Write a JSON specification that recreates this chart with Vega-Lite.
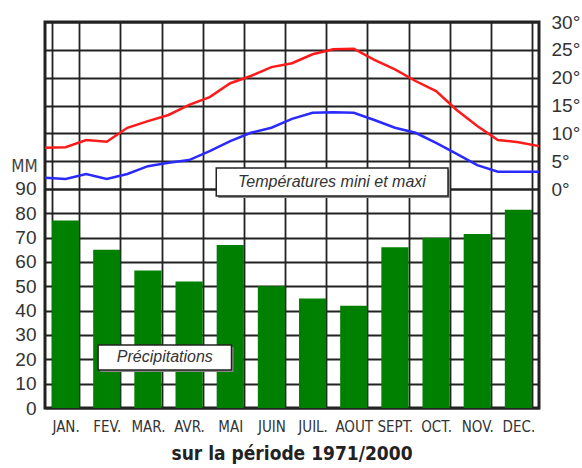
{
  "$schema": "https://vega.github.io/schema/vega-lite/v6.json",
  "width": 494,
  "height": 386,
  "autosize": "none",
  "padding": {"left": 45, "top": 22, "right": 43, "bottom": 60},
  "background": "white",
  "config": {
    "view": {"stroke": "#222", "strokeWidth": 3},
    "font": "Liberation Sans"
  },
  "title": {
    "text": "sur la période 1971/2000",
    "orient": "bottom",
    "anchor": "middle",
    "font": "DejaVu Sans Condensed, Liberation Sans",
    "fontSize": 19,
    "fontWeight": "bold",
    "color": "#222",
    "offset": 11
  },
  "resolve": {"scale": {"x": "independent", "y": "independent"}},
  "layer": [
    {
      "data": {
        "values": [
          {"mois": "JAN.", "mm": 77},
          {"mois": "FEV.", "mm": 65},
          {"mois": "MAR.", "mm": 56.5},
          {"mois": "AVR.", "mm": 52},
          {"mois": "MAI", "mm": 67},
          {"mois": "JUIN", "mm": 50},
          {"mois": "JUIL.", "mm": 45},
          {"mois": "AOUT", "mm": 42},
          {"mois": "SEPT.", "mm": 66},
          {"mois": "OCT.", "mm": 70},
          {"mois": "NOV.", "mm": 71.5},
          {"mois": "DEC.", "mm": 81.5}
        ]
      },
      "mark": {"type": "bar", "color": "#008000"},
      "encoding": {
        "x": {
          "field": "mois",
          "type": "nominal",
          "sort": null,
          "scale": {"paddingInner": 0.34, "paddingOuter": 0.17},
          "axis": {
            "title": null,
            "tickBand": "extent",
            "grid": true,
            "gridColor": "#222",
            "gridWidth": 1.8,
            "ticks": false,
            "domain": false,
            "labelAngle": 0,
            "labelOverlap": false,
            "labelFont": "DejaVu Sans Condensed, Liberation Sans",
            "labelFontSize": 15,
            "labelColor": "#333",
            "labelPadding": 11
          }
        },
        "y": {
          "field": "mm",
          "type": "quantitative",
          "scale": {"domain": [0, 158.6], "nice": false, "zero": true},
          "axis": {
            "values": [0, 10, 20, 30, 40, 50, 60, 70, 80, 90],
            "grid": true,
            "gridColor": "#222",
            "gridWidth": 1.8,
            "ticks": false,
            "domain": false,
            "labelFont": "Liberation Sans",
            "labelFontSize": 19,
            "labelColor": "#333",
            "labelPadding": 9,
            "title": "MM",
            "titleAngle": 0,
            "titleX": -21,
            "titleY": 144,
            "titleAlign": "center",
            "titleBaseline": "middle",
            "titleFont": "DejaVu Sans Condensed, Liberation Sans",
            "titleFontSize": 17,
            "titleFontWeight": "normal",
            "titleColor": "#444"
          }
        }
      }
    },
    {
      "data": {
        "values": [
          {"m": 0, "tmax": 7.4, "tmin": 2.0},
          {"m": 0.5, "tmax": 7.5, "tmin": 1.8},
          {"m": 1, "tmax": 8.8, "tmin": 2.7},
          {"m": 1.5, "tmax": 8.5, "tmin": 1.8},
          {"m": 2, "tmax": 11.0, "tmin": 2.7},
          {"m": 2.5, "tmax": 12.2, "tmin": 4.1},
          {"m": 3, "tmax": 13.3, "tmin": 4.7},
          {"m": 3.5, "tmax": 15.1, "tmin": 5.2},
          {"m": 4, "tmax": 16.5, "tmin": 6.8},
          {"m": 4.5, "tmax": 19.0, "tmin": 8.6},
          {"m": 5, "tmax": 20.3, "tmin": 10.1},
          {"m": 5.5, "tmax": 21.9, "tmin": 11.0},
          {"m": 6, "tmax": 22.6, "tmin": 12.6},
          {"m": 6.5, "tmax": 24.2, "tmin": 13.7},
          {"m": 7, "tmax": 25.1, "tmin": 13.8},
          {"m": 7.5, "tmax": 25.2, "tmin": 13.7},
          {"m": 8, "tmax": 23.2, "tmin": 12.4},
          {"m": 8.5, "tmax": 21.5, "tmin": 11.0},
          {"m": 9, "tmax": 19.4, "tmin": 10.1},
          {"m": 9.5, "tmax": 17.6, "tmin": 8.3},
          {"m": 10, "tmax": 14.2, "tmin": 6.3},
          {"m": 10.5, "tmax": 11.3, "tmin": 4.3},
          {"m": 11, "tmax": 8.8, "tmin": 3.1},
          {"m": 11.5, "tmax": 8.4, "tmin": 3.1},
          {"m": 12, "tmax": 7.7, "tmin": 3.1}
        ]
      },
      "layer": [
        {
          "mark": {"type": "line", "color": "#ff1a1a", "strokeWidth": 2.5},
          "encoding": {
            "x": {"field": "m", "type": "quantitative", "scale": {"domain": [0, 12], "nice": false, "zero": false}, "axis": null},
            "y": {
              "field": "tmax",
              "type": "quantitative",
              "scale": {"domain": [-39.34, 30], "nice": false, "zero": false},
              "axis": {
                "orient": "right",
                "values": [0, 5, 10, 15, 20, 25, 30],
                "labelExpr": "datum.value + '°'",
                "grid": true,
                "gridColor": "#222",
                "gridWidth": 1.8,
                "ticks": false,
                "domain": false,
                "labelFont": "Liberation Sans",
                "labelFontSize": 19,
                "labelColor": "#333",
                "labelPadding": 12,
                "title": null
              }
            }
          }
        },
        {
          "mark": {"type": "line", "color": "#2a2aff", "strokeWidth": 2.5},
          "encoding": {
            "x": {"field": "m", "type": "quantitative"},
            "y": {"field": "tmin", "type": "quantitative"}
          }
        },
        {
          "data": {"values": [{"label": "Températures mini et maxi"}]},
          "mark": {"type": "rect", "fill": "#8a8a8a", "xOffset": 2, "x2Offset": 2, "yOffset": 2, "y2Offset": 2},
          "encoding": {
            "x": {"datum": 4.16, "type": "quantitative"},
            "x2": {"datum": 9.79},
            "y": {"datum": 3.77, "type": "quantitative"},
            "y2": {"datum": -1.26}
          }
        },
        {
          "data": {"values": [{"label": "Températures mini et maxi"}]},
          "mark": {"type": "rect", "fill": "white", "stroke": "#222", "strokeWidth": 1.5},
          "encoding": {
            "x": {"datum": 4.16, "type": "quantitative"},
            "x2": {"datum": 9.79},
            "y": {"datum": 3.77, "type": "quantitative"},
            "y2": {"datum": -1.26}
          }
        },
        {
          "data": {"values": [{"label": "Températures mini et maxi"}]},
          "mark": {"type": "text", "font": "Liberation Sans", "fontStyle": "italic", "fontSize": 16, "color": "#333", "align": "center", "baseline": "middle"},
          "encoding": {
            "x": {"datum": 6.97, "type": "quantitative"},
            "y": {"datum": 1.2, "type": "quantitative"},
            "text": {"field": "label"}
          }
        }
      ]
    },
    {
      "data": {"values": [{"label": "Précipitations"}]},
      "encoding": {
        "x": {"datum": 1.29, "type": "quantitative", "scale": {"domain": [0, 12], "nice": false, "zero": false}, "axis": null},
        "y": {"datum": 25.9, "type": "quantitative", "scale": {"domain": [0, 158.6], "nice": false, "zero": true}, "axis": null}
      },
      "layer": [
        {
          "mark": {"type": "rect", "fill": "#8a8a8a", "xOffset": 2, "x2Offset": 2, "yOffset": 2, "y2Offset": 2},
          "encoding": {"x2": {"datum": 4.53}, "y2": {"datum": 15.6}}
        },
        {
          "mark": {"type": "rect", "fill": "white", "stroke": "#222", "strokeWidth": 1.5},
          "encoding": {"x2": {"datum": 4.53}, "y2": {"datum": 15.6}}
        },
        {
          "mark": {"type": "text", "font": "Liberation Sans", "fontStyle": "italic", "fontSize": 16, "color": "#333", "align": "center", "baseline": "middle"},
          "encoding": {
            "x": {"datum": 2.91, "type": "quantitative"},
            "y": {"datum": 20.8, "type": "quantitative"},
            "text": {"field": "label"}
          }
        }
      ]
    }
  ]
}
